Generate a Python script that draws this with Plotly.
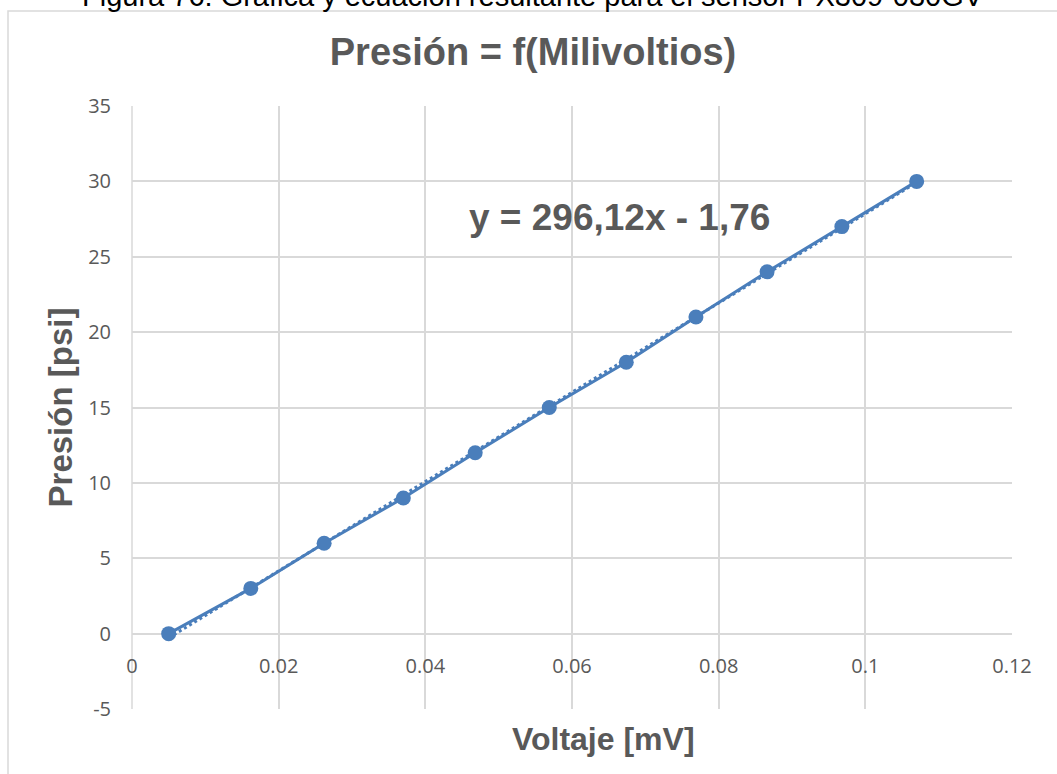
import plotly.graph_objects as go

# ---- data ----
voltaje_mv = [0.0050, 0.0162, 0.0262, 0.0370, 0.0468, 0.0569, 0.0674, 0.0769, 0.0866, 0.0968, 0.1070]
presion_psi = [0, 3, 6, 9, 12, 15, 18, 21, 24, 27, 30]
trend_slope = 296.12
trend_intercept = -1.76
x_ticks = [0, 0.02, 0.04, 0.06, 0.08, 0.1, 0.12]
x_tick_labels = ["0", "0.02", "0.04", "0.06", "0.08", "0.1", "0.12"]
y_ticks = [-5, 0, 5, 10, 15, 20, 25, 30, 35]
y_tick_labels = ["-5", "0", "5", "10", "15", "20", "25", "30", "35"]

BLUE = "#4a7ebb"
GRAY = "#595959"
GRID = "#d9d9d9"

trend_x = [min(voltaje_mv), max(voltaje_mv)]
trend_y = [trend_slope * v + trend_intercept for v in trend_x]

fig = go.Figure()
fig.add_trace(go.Scatter(
    x=trend_x, y=trend_y, mode="lines",
    line=dict(color=BLUE, width=3, dash="dot"),
    hoverinfo="skip", showlegend=False,
))
fig.add_trace(go.Scatter(
    x=voltaje_mv, y=presion_psi, mode="lines+markers",
    line=dict(color=BLUE, width=3),
    marker=dict(color=BLUE, size=15),
    showlegend=False,
))

L, R, T, B = 132, 45, 106, 65
W, H = 1057, 774
pw = W - L - R
ph = H - T - B

def px_x(px):
    return (px - L) / pw

def px_y(py):
    return (H - B - py) / ph

fig.update_layout(
    width=W, height=H,
    margin=dict(l=L, r=R, t=T, b=B, pad=0),
    paper_bgcolor="white", plot_bgcolor="white",
    font=dict(family="Open Sans", color=GRAY),
    title=dict(
        text="<b>Presión = f(Milivoltios)</b>",
        font=dict(family="Liberation Sans, Arial", size=38, color=GRAY),
        xref="paper", x=px_x(533), xanchor="center",
        yref="container", y=1 - 52 / H, yanchor="middle",
    ),
    xaxis=dict(
        range=[0, 0.12], tickvals=x_ticks, ticktext=x_tick_labels,
        showgrid=True, gridcolor=GRID, gridwidth=1.5,
        zeroline=False, showline=False,
        anchor="free", position=5 / 40,
        tickfont=dict(family="Open Sans", size=20, color=GRAY),
        ticks="", ticklabelstandoff=18,
    ),
    yaxis=dict(
        range=[-5, 35], tickvals=y_ticks, ticktext=y_tick_labels,
        showgrid=True, gridcolor=GRID, gridwidth=1.5,
        zeroline=False, showline=False,
        tickfont=dict(family="Open Sans", size=20, color=GRAY),
        ticks="", ticklabelstandoff=20,
        title=dict(text="<b>Presión [psi]</b>",
                   font=dict(family="Liberation Sans, Arial", size=33, color=GRAY),
                   standoff=5),
    ),
    annotations=[
        dict(text="<b>y = 296,12x - 1,76</b>", xref="paper", yref="paper",
             x=px_x(619), y=px_y(217), xanchor="center", yanchor="middle",
             showarrow=False,
             font=dict(family="Liberation Sans, Arial", size=37, color=GRAY)),
        dict(text="<b>Voltaje [mV]</b>", xref="paper", yref="paper",
             x=px_x(603), y=px_y(739), xanchor="center", yanchor="middle",
             showarrow=False,
             font=dict(family="Liberation Sans, Arial", size=32, color=GRAY)),
        dict(text="Figura 76: Gráfica y ecuación resultante para el sensor PX309-030GV",
             xref="paper", yref="paper",
             x=px_x(533), y=px_y(-4), xanchor="center", yanchor="middle",
             showarrow=False,
             font=dict(family="Liberation Sans, Arial", size=29, color="black")),
    ],
    shapes=[
        dict(type="rect", xref="paper", yref="paper",
             x0=px_x(8), x1=px_x(1100), y0=px_y(800), y1=px_y(11),
             line=dict(color=GRID, width=1.5), fillcolor="rgba(0,0,0,0)", layer="below"),
        dict(type="line", xref="paper", yref="paper",
             x0=0, x1=0, y0=0, y1=1, line=dict(color=GRID, width=1.5), layer="below"),
    ],
)

fig.write_html("out.html", config={"displayModeBar": False},
               post_script="document.body.style.margin='0';document.body.style.overflow='hidden';")
